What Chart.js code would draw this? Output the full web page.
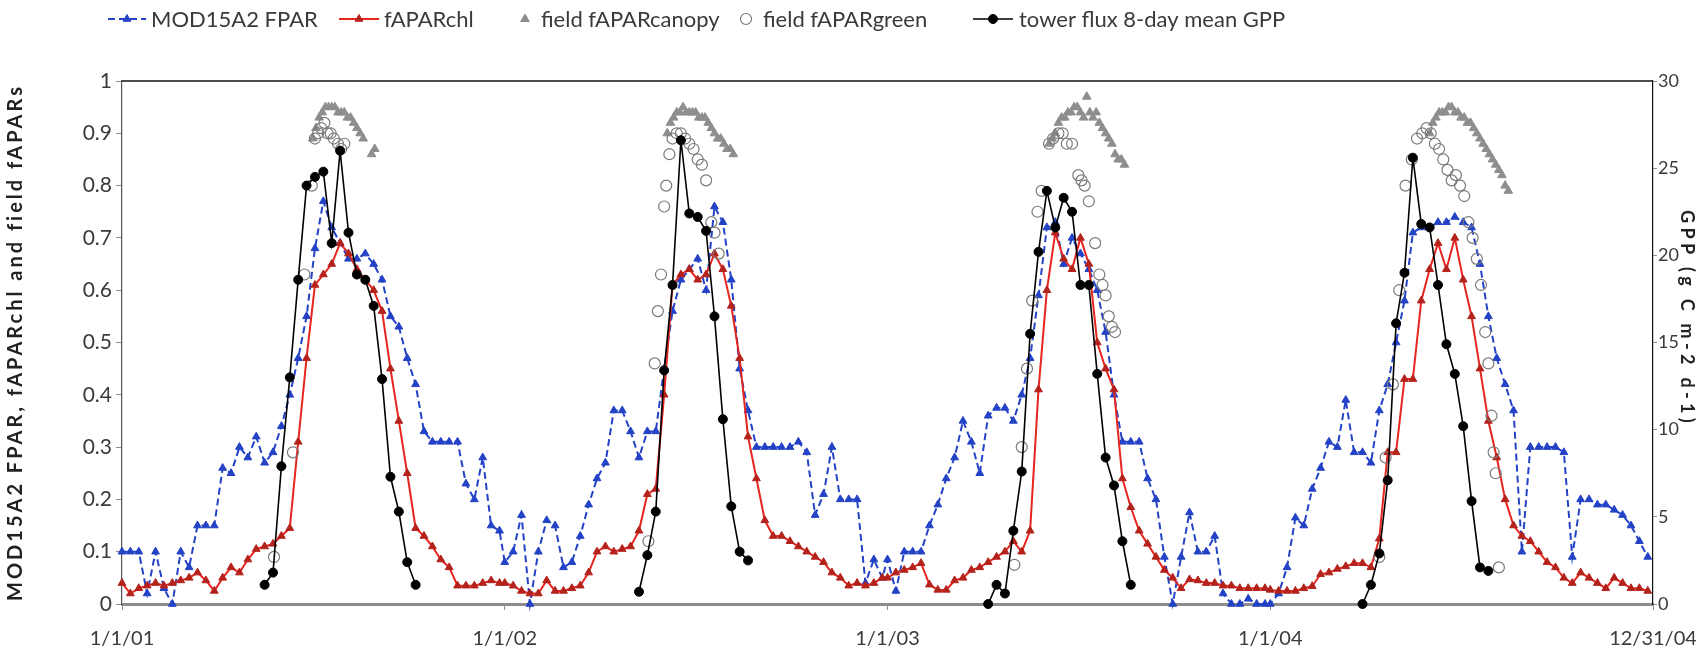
<!DOCTYPE html>
<html>
<head>
<meta charset="utf-8">
<title>FPAR, fAPARchl and tower GPP, 2001-2004</title>
<script src="https://cdn.jsdelivr.net/npm/chart.js@4.4.1/dist/chart.umd.min.js"></script>
<style>
  html, body { margin: 0; padding: 0; background: #ffffff; }
  #wrap { width: 1696px; height: 660px; }
</style>
</head>
<body>
<div id="wrap"><canvas id="chart" width="1696" height="660"></canvas></div>
<script>
// ---- time axis: days counted from 1 Jan 2001 ----
const yearStartDay = [0, 365, 730, 1095];
const xTickDays = [0, 365, 730, 1095, 1460];
const xTickLabels = ['1/1/01', '1/1/02', '1/1/03', '1/1/04', '12/31/04'];
const compositeStep = 8; // 8-day composites, 46 per year

// ---- MOD15A2 FPAR (8-day composites) ----
const modFpar2001 = [.10,.10,.10,.02,.10,.03,.00,.10,.07,.15,.15,.15,.26,.25,.30,.28,.32,.27,.29,.34,.40,.47,.55,.68,.77,.72,.69,.66,.66,.67,.65,.62,.55,.53,.47,.42,.33,.31,.31,.31,.31,.23,.20,.28,.15,.14];
const modFpar2002 = [.08,.10,.17,.00,.10,.16,.15,.07,.08,.13,.19,.24,.27,.37,.37,.33,.28,.33,.33,.45,.56,.62,.64,.66,.60,.76,.73,.62,.45,.37,.30,.30,.30,.30,.30,.31,.29,.17,.21,.30,.20,.20,.20,.04,.085,.05];
const modFpar2003 = [.085,.025,.10,.10,.10,.15,.19,.24,.28,.35,.31,.25,.36,.375,.375,.35,.40,.47,.59,.72,.73,.65,.70,.67,.64,.60,.52,.40,.31,.31,.31,.24,.20,.09,.00,.09,.175,.10,.10,.13,.02,.00,.00,.01,.00,.00];
const modFpar2004 = [.00,.02,.07,.165,.15,.22,.26,.31,.30,.39,.29,.29,.27,.37,.42,.50,.58,.71,.72,.72,.73,.73,.74,.73,.72,.65,.55,.47,.42,.37,.10,.30,.30,.30,.30,.29,.09,.20,.20,.19,.19,.18,.17,.15,.12,.09];

// ---- fAPARchl (8-day) ----
const faparChl2001 = [.04,.02,.03,.035,.04,.035,.04,.045,.05,.06,.045,.025,.05,.07,.06,.085,.105,.11,.115,.13,.145,.31,.47,.61,.63,.65,.69,.67,.64,.62,.60,.56,.45,.35,.25,.145,.13,.11,.085,.07,.035,.035,.035,.04,.045,.04];
const faparChl2002 = [.04,.035,.025,.02,.02,.045,.025,.025,.03,.035,.06,.10,.11,.10,.105,.11,.14,.21,.22,.40,.61,.63,.64,.62,.63,.67,.64,.57,.47,.32,.24,.16,.13,.13,.12,.11,.10,.09,.08,.06,.05,.035,.04,.035,.04,.05];
const faparChl2003 = [.05,.06,.065,.07,.078,.037,.027,.027,.045,.05,.065,.07,.08,.09,.10,.12,.10,.14,.41,.60,.71,.66,.64,.70,.65,.50,.45,.41,.24,.185,.14,.115,.09,.065,.05,.03,.047,.045,.04,.04,.035,.035,.03,.03,.03,.03];
const faparChl2004 = [.027,.025,.025,.025,.03,.034,.057,.06,.067,.072,.078,.078,.07,.125,.29,.29,.43,.43,.58,.64,.69,.64,.70,.62,.55,.45,.35,.28,.20,.15,.13,.12,.10,.08,.07,.05,.04,.06,.05,.04,.03,.05,.04,.03,.03,.025];

// ---- tower flux 8-day mean GPP (g C m-2 d-1); first composite index of each season ----
const gppStartIndex = [17, 16, 12, 11];
const gpp2001 = [1.1, 1.8, 7.9, 13.0, 18.6, 24.0, 24.5, 24.8, 20.7, 26.0, 21.3, 18.9, 18.6, 17.1, 12.9, 7.3, 5.3, 2.4, 1.1];
const gpp2002 = [0.7, 2.8, 5.3, 13.4, 18.3, 26.6, 22.4, 22.2, 21.4, 16.5, 10.6, 5.6, 3.0, 2.5];
const gpp2003 = [0.0, 1.1, 0.6, 4.2, 7.6, 15.5, 20.2, 23.7, 21.6, 23.3, 22.5, 18.3, 18.3, 13.2, 8.4, 6.8, 3.6, 1.1];
const gpp2004 = [0.0, 1.1, 2.9, 7.1, 16.1, 19.0, 25.6, 21.8, 21.6, 18.3, 14.9, 13.2, 10.2, 5.9, 2.1, 1.9];

// ---- field fAPARcanopy (day from 1 Jan 2001, value) ----
const canopyDays2001 = [182,185,188,191,194,197,200,203,206,209,212,215,218,221,224,227,230,238,241];
const canopy2001     = [.89,.91,.93,.94,.95,.95,.95,.95,.94,.94,.94,.93,.93,.92,.91,.90,.89,.86,.87];
const canopyDays2002 = [520,523,526,529,532,535,538,541,544,547,550,553,556,559,562,565,568,571,574,577,580,583];
const canopy2002     = [.90,.92,.93,.94,.94,.95,.94,.94,.94,.94,.93,.93,.93,.92,.91,.90,.89,.89,.88,.87,.87,.86];
const canopyDays2003 = [884,887,890,893,896,899,902,905,908,911,914,917,920,923,926,929,932,935,938,941,944,947,950,953,956];
const canopy2003     = [.88,.89,.90,.92,.93,.93,.94,.94,.95,.95,.94,.93,.97,.94,.93,.94,.92,.91,.90,.89,.88,.86,.85,.85,.84];
const canopyDays2004 = [1247,1250,1253,1256,1259,1262,1265,1268,1271,1274,1277,1280,1283,1286,1289,1292,1295,1298,1301,1304,1307,1310,1313,1316,1319,1322];
const canopy2004     = [.90,.92,.93,.94,.94,.94,.95,.95,.94,.94,.93,.93,.92,.92,.91,.90,.89,.88,.87,.86,.85,.84,.83,.82,.80,.79];

// ---- field fAPARgreen (day from 1 Jan 2001, value) ----
const greenDays2001 = [145,163,174,181,184,187,190,193,196,199,202,206,209,212];
const green2001     = [.09,.29,.63,.80,.89,.90,.91,.92,.90,.90,.89,.88,.87,.88];
const greenDays2002 = [502,508,511,514,517,519,522,525,529,533,537,541,545,549,553,557,562,565,569];
const green2002     = [.12,.46,.56,.63,.76,.80,.86,.89,.90,.90,.89,.88,.87,.85,.84,.81,.73,.71,.67];
const greenDays2003 = [851,858,863,868,873,877,884,888,893,897,901,906,912,915,918,922,928,932,935,938,941,944,947];
const green2003     = [.075,.30,.45,.58,.75,.79,.88,.89,.90,.90,.88,.88,.82,.81,.80,.77,.69,.63,.61,.59,.55,.53,.52];
const greenDays2004 = [1199,1205,1212,1218,1224,1230,1235,1240,1244,1248,1252,1256,1260,1264,1268,1272,1276,1280,1284,1288,1292,1296,1300,1303,1306,1308,1310,1313];
const green2004     = [.09,.28,.42,.60,.80,.85,.89,.90,.91,.90,.88,.87,.85,.83,.81,.82,.80,.78,.73,.70,.66,.61,.52,.46,.36,.29,.25,.07];

// ---- build point lists ----
function compositeSeries(years) {
  const pts = [];
  years.forEach((vals, y) => vals.forEach((v, i) => pts.push({ x: yearStartDay[y] + compositeStep * i, y: v })));
  return pts;
}
function seasonSeries(years, starts) {
  const pts = [];
  years.forEach((vals, y) => {
    vals.forEach((v, i) => pts.push({ x: yearStartDay[y] + compositeStep * (starts[y] + i), y: v }));
    pts.push({ x: yearStartDay[y] + compositeStep * (starts[y] + vals.length), y: null }); // break between seasons
  });
  return pts;
}
function fieldSeries(dayLists, valLists) {
  const pts = [];
  dayLists.forEach((days, k) => days.forEach((d, i) => pts.push({ x: d, y: valLists[k][i] })));
  return pts;
}

const modPts = compositeSeries([modFpar2001, modFpar2002, modFpar2003, modFpar2004]);
const chlPts = compositeSeries([faparChl2001, faparChl2002, faparChl2003, faparChl2004]);
const gppPts = seasonSeries([gpp2001, gpp2002, gpp2003, gpp2004], gppStartIndex);
const canopyPts = fieldSeries([canopyDays2001, canopyDays2002, canopyDays2003, canopyDays2004],
                              [canopy2001, canopy2002, canopy2003, canopy2004]);
const greenPts = fieldSeries([greenDays2001, greenDays2002, greenDays2003, greenDays2004],
                             [green2001, green2002, green2003, green2004]);

const FONT = 'Lato, "Liberation Sans", sans-serif';
const TEXT = '#3a3a3a';

// key drawn across the top: line sample span and text start for each series
const keySlots = [
  { x0: 108, x1: 146, tx: 151 },
  { x0: 339, x1: 379, tx: 384 },
  { x0: 525, x1: 525, tx: 541 },
  { x0: 746, x1: 746, tx: 763 },
  { x0: 973, x1: 1013, tx: 1019 }
];

function marker(ctx, ds, x, y) {
  ctx.save();
  ctx.setLineDash([]);
  ctx.fillStyle = ds.pointBackgroundColor;
  ctx.strokeStyle = ds.pointBorderColor;
  ctx.lineWidth = ds.pointBorderWidth;
  Chart.helpers.drawPoint(ctx, { pointStyle: ds.pointStyle, radius: ds.pointRadius, rotation: 0, borderWidth: ds.pointBorderWidth }, x, y);
  ctx.restore();
}

const seriesKey = {
  id: 'seriesKey',
  afterDraw(chart) {
    const ctx = chart.ctx;
    const yMid = 19;
    chart.data.datasets.forEach((ds, i) => {
      const s = keySlots[i];
      if (ds.showLine !== false) {
        ctx.save();
        ctx.strokeStyle = ds.borderColor;
        ctx.lineWidth = ds.borderWidth;
        ctx.setLineDash(ds.borderDash || []);
        ctx.beginPath();
        ctx.moveTo(s.x0, yMid);
        ctx.lineTo(s.x1, yMid);
        ctx.stroke();
        ctx.restore();
      }
      marker(ctx, ds, (s.x0 + s.x1) / 2, yMid);
      ctx.save();
      ctx.fillStyle = TEXT;
      ctx.font = '22px ' + FONT;
      ctx.textBaseline = 'middle';
      ctx.textAlign = 'left';
      ctx.fillText(ds.label, s.tx, yMid + 1);
      ctx.restore();
    });
  }
};

// top edge of the plotting frame
const frameTop = {
  id: 'frameTop',
  afterDatasetsDraw(chart) {
    const { ctx, chartArea: a } = chart;
    ctx.save();
    ctx.strokeStyle = '#111';
    ctx.lineWidth = 1.5;
    ctx.beginPath();
    ctx.moveTo(a.left, a.top);
    ctx.lineTo(a.right, a.top);
    ctx.stroke();
    ctx.restore();
  }
};

// the two axis titles are set with extra tracking; the GPP title sits a little above centre
const titleTracking = { y: '3px', y2: '4.3px' };
const titleShiftY = { y: 0, y2: -24 };
const trackedTitles = {
  id: 'trackedTitles',
  beforeDraw(chart) {
    Object.keys(titleTracking).forEach((id) => {
      const scale = chart.scales[id];
      if (!scale || scale._tracked) return;
      const base = scale.drawTitle;
      scale.drawTitle = function () {
        this.ctx.save();
        this.ctx.letterSpacing = titleTracking[id];
        this.ctx.translate(0, titleShiftY[id]);
        base.call(this);
        this.ctx.restore();
      };
      scale._tracked = true;
    });
  }
};

new Chart(document.getElementById('chart'), {
  type: 'line',
  data: {
    datasets: [
      {
        label: 'MOD15A2 FPAR', data: modPts, yAxisID: 'y', order: 5, clip: false,
        borderColor: '#2342c6', borderWidth: 2, borderDash: [7, 4], tension: 0,
        pointStyle: 'triangle', pointRadius: 4.5, pointBackgroundColor: '#2342c6', pointBorderColor: '#2342c6', pointBorderWidth: 1
      },
      {
        label: 'fAPARchl', data: chlPts, yAxisID: 'y', order: 4, clip: false,
        borderColor: '#e5251e', borderWidth: 2, tension: 0,
        pointStyle: 'triangle', pointRadius: 4.5, pointBackgroundColor: '#b4221c', pointBorderColor: '#b4221c', pointBorderWidth: 1
      },
      {
        label: 'field fAPARcanopy', data: canopyPts, yAxisID: 'y', order: 3, clip: false, showLine: false,
        borderColor: '#8e8e8e',
        pointStyle: 'triangle', pointRadius: 5, pointBackgroundColor: '#8e8e8e', pointBorderColor: '#8e8e8e', pointBorderWidth: 1
      },
      {
        label: 'field fAPARgreen', data: greenPts, yAxisID: 'y', order: 2, clip: false, showLine: false,
        borderColor: '#7a7a7a',
        pointStyle: 'circle', pointRadius: 5.5, pointBackgroundColor: 'rgba(255,255,255,0)', pointBorderColor: '#7a7a7a', pointBorderWidth: 1.2
      },
      {
        label: 'tower flux 8-day mean GPP', data: gppPts, yAxisID: 'y2', order: 1, clip: false, spanGaps: false,
        borderColor: '#000000', borderWidth: 1.6, tension: 0,
        pointStyle: 'circle', pointRadius: 4.5, pointBackgroundColor: '#000000', pointBorderColor: '#000000', pointBorderWidth: 1
      }
    ]
  },
  options: {
    responsive: false,
    animation: false,
    devicePixelRatio: 1,
    layout: { padding: { top: 81, left: 0, right: 0, bottom: 0 } },
    plugins: { legend: { display: false }, tooltip: { enabled: false } },
    scales: {
      x: {
        type: 'linear', min: 0, max: 1460,
        afterBuildTicks: (s) => { s.ticks = xTickDays.map(v => ({ value: v })); },
        afterFit: (s) => { s.height = 56; s.paddingLeft = 0; s.paddingRight = 0; },
        ticks: {
          autoSkip: false, maxRotation: 0, padding: 17, color: TEXT,
          font: { family: FONT, size: 20 },
          callback: (v) => xTickLabels[xTickDays.indexOf(v)]
        },
        grid: { display: true, drawOnChartArea: false, drawTicks: true, tickLength: 6, color: '#8c8c8c', lineWidth: 1 },
        border: { display: true, color: '#8c8c8c', width: 3 }
      },
      y: {
        position: 'left', min: 0, max: 1,
        afterFit: (s) => { s.width = 122; },
        ticks: {
          stepSize: 0.1, padding: 4, color: TEXT, font: { family: FONT, size: 21 },
          callback: (v) => String(Math.round(v * 10) / 10)
        },
        grid: { display: true, drawOnChartArea: false, tickLength: 6, color: '#8c8c8c' },
        border: { display: true, color: '#555', width: 1.2 },
        title: {
          display: true, text: 'MOD15A2 FPAR, fAPARchl and field fAPARs', color: '#222',
          font: { family: FONT, size: 20, weight: 'bold' }, padding: { top: 4, bottom: 0 }
        }
      },
      y2: {
        position: 'right', min: 0, max: 30,
        afterFit: (s) => { s.width = 43; },
        ticks: { stepSize: 5, padding: 1, color: TEXT, font: { family: FONT, size: 18 } },
        grid: { display: true, drawOnChartArea: false, tickLength: 4, color: '#8c8c8c' },
        border: { display: true, color: '#111', width: 1.2 },
        title: {
          display: true, text: 'GPP (g C m-2 d-1)', color: '#222',
          font: { family: FONT, size: 18, weight: 'bold', lineHeight: 1 }, padding: { top: 0, bottom: 0 }
        }
      }
    }
  },
  plugins: [trackedTitles, seriesKey, frameTop]
});
</script>
</body>
</html>
